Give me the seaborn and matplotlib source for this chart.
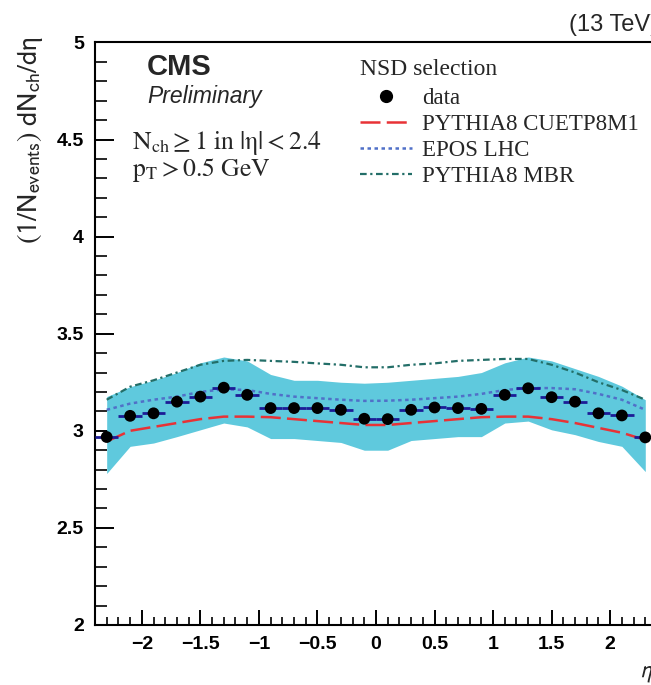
import numpy as np
import pandas as pd
import matplotlib
matplotlib.use("Agg")
import matplotlib.pyplot as plt
import seaborn as sns
from matplotlib.lines import Line2D
from matplotlib.ticker import MultipleLocator, FixedLocator, FixedFormatter

# ---------------- data ----------------
eta = [-2.3, -2.1, -1.9, -1.7, -1.5, -1.3, -1.1, -0.9, -0.7, -0.5, -0.3, -0.1,
       0.1, 0.3, 0.5, 0.7, 0.9, 1.1, 1.3, 1.5, 1.7, 1.9, 2.1, 2.3]
data_vals = [2.968, 3.077, 3.090, 3.150, 3.176, 3.222, 3.185, 3.117, 3.117, 3.117, 3.108, 3.062,
             3.060, 3.108, 3.120, 3.117, 3.113, 3.185, 3.219, 3.173, 3.150, 3.090, 3.079, 2.966]
band_low = [2.780, 2.920, 2.937, 2.970, 3.005, 3.040, 3.020, 2.960, 2.960, 2.950, 2.940, 2.900,
            2.900, 2.950, 2.960, 2.970, 2.970, 3.040, 3.050, 3.005, 2.980, 2.945, 2.920, 2.790]
band_high = [3.176, 3.227, 3.260, 3.300, 3.350, 3.380, 3.360, 3.290, 3.260, 3.260, 3.250, 3.245,
             3.250, 3.260, 3.270, 3.280, 3.300, 3.350, 3.380, 3.360, 3.320, 3.280, 3.230, 3.160]
cuetp8m1 = [2.945, 3.000, 3.020, 3.040, 3.060, 3.073, 3.073, 3.070, 3.060, 3.050, 3.040, 3.030,
            3.030, 3.040, 3.050, 3.060, 3.070, 3.073, 3.073, 3.060, 3.040, 3.015, 2.990, 2.953]
epos_lhc = [3.108, 3.140, 3.160, 3.176, 3.200, 3.214, 3.210, 3.190, 3.176, 3.168, 3.160, 3.154,
            3.155, 3.160, 3.168, 3.176, 3.190, 3.210, 3.220, 3.220, 3.214, 3.190, 3.160, 3.108]
mbr = [3.160, 3.227, 3.260, 3.300, 3.340, 3.360, 3.365, 3.360, 3.355, 3.347, 3.340, 3.327,
       3.327, 3.340, 3.347, 3.360, 3.365, 3.370, 3.370, 3.340, 3.300, 3.250, 3.210, 3.160]

xticks = [-2, -1.5, -1, -0.5, 0, 0.5, 1, 1.5, 2]
xtick_labels = ["\u22122", "\u22121.5", "\u22121", "\u22120.5", "0", "0.5", "1", "1.5", "2"]
yticks = [2, 2.5, 3, 3.5, 4, 4.5, 5]
ytick_labels = ["2", "2.5", "3", "3.5", "4", "4.5", "5"]

legend_title = "NSD selection"
legend_labels = ["data", "PYTHIA8 CUETP8M1", "EPOS LHC", "PYTHIA8 MBR"]

# ---------------- style ----------------
sns.set_theme(style="ticks")
plt.rcParams["font.family"] = ["Liberation Sans", "DejaVu Sans"]
plt.rcParams["axes.linewidth"] = 1.5

df = pd.DataFrame({"eta": eta, "data": data_vals, "lo": band_low, "hi": band_high,
                   "cuet": cuetp8m1, "epos": epos_lhc, "mbr": mbr})

fig = plt.figure(figsize=(6.51, 6.85), dpi=100)
ax = fig.add_axes([0.1459, 0.0876, 0.8633, 0.8505])

band_col = "#5fc9dd"
red = "#e83236"
blue = "#5070c8"
teal = "#236e68"
navy = "#1c1c96"

ax.fill_between(df["eta"], df["lo"], df["hi"], color=band_col, lw=0, zorder=1)

sns.lineplot(data=df, x="eta", y="mbr", ax=ax, color=teal, lw=1.6,
             linestyle=(0, (3, 1.6, 1, 1.6)), zorder=3)
sns.lineplot(data=df, x="eta", y="epos", ax=ax, color=blue, lw=1.8,
             linestyle=(0, (1.4, 1.4)), zorder=3)
sns.lineplot(data=df, x="eta", y="cuet", ax=ax, color=red, lw=1.8,
             linestyle=(0, (8, 2.5)), zorder=3)

ax.errorbar(df["eta"], df["data"], xerr=0.1, fmt="none", ecolor=navy,
            elinewidth=2.0, capsize=0, zorder=4)
sns.scatterplot(data=df, x="eta", y="data", ax=ax, color="black", s=72,
                edgecolor="none", zorder=5)

ax.set_xlim(-2.4, 2.4)
ax.set_ylim(2, 5)
ax.set_xlabel("")
ax.set_ylabel("")

ax.xaxis.set_major_locator(FixedLocator(xticks))
ax.xaxis.set_major_formatter(FixedFormatter(xtick_labels))
ax.yaxis.set_major_locator(FixedLocator(yticks))
ax.yaxis.set_major_formatter(FixedFormatter(ytick_labels))
ax.xaxis.set_minor_locator(MultipleLocator(0.1))
ax.yaxis.set_minor_locator(MultipleLocator(0.1))

ax.tick_params(axis="y", which="major", direction="in", length=14, width=1.4,
               labelsize=14, pad=8, colors="black")
ax.tick_params(axis="y", which="minor", direction="in", length=8.5, width=1.4)
ax.tick_params(axis="x", which="major", direction="in", length=11, width=1.4,
               labelsize=14, pad=8, colors="black")
ax.tick_params(axis="x", which="minor", direction="in", length=5.5, width=1.4)
for lab in ax.get_xticklabels() + ax.get_yticklabels():
    lab.set_fontweight("bold")
for s in ax.spines.values():
    s.set_color("black")
    s.set_linewidth(1.5)

# ---------------- legend ----------------
handles = [
    Line2D([], [], ls="none", marker="o", color="black", markersize=8.5),
    Line2D([], [], color=red, lw=1.8, ls=(0, (8, 2.5))),
    Line2D([], [], color=blue, lw=1.8, ls=(0, (1.4, 1.4))),
    Line2D([], [], color=teal, lw=1.6, ls=(0, (3, 1.6, 1, 1.6))),
]
leg = ax.legend(handles, legend_labels, title=legend_title, loc="upper left",
                bbox_to_anchor=(0.452, 0.992), frameon=False, borderpad=0,
                handlelength=2.25, handletextpad=0.45, labelspacing=0.22,
                alignment="left",
                prop={"family": "Liberation Serif", "size": 16.5},
                title_fontproperties={"family": "Liberation Serif", "size": 17})
leg._legend_box.sep = 6

# ---------------- texts ----------------
fig.text(147 / 651, 1 - 75 / 685, "CMS", fontsize=21, fontweight="bold",
         family="Liberation Sans", va="baseline", ha="left")
fig.text(147 / 651, 1 - 103 / 685, "Preliminary", fontsize=16.5, style="italic",
         family="Liberation Sans", va="baseline", ha="left")
fig.text(132 / 651, 1 - 149 / 685, r"$\mathrm{N_{ch}\geq 1\ in\ |\eta| < 2.4}$",
         fontsize=18.5, math_fontfamily="stix", va="baseline", ha="left")
fig.text(132 / 651, 1 - 176 / 685, r"$\mathrm{p_{T} > 0.5\ GeV}$",
         fontsize=18.5, math_fontfamily="stix", va="baseline", ha="left")
fig.text(658 / 651, 1 - 31 / 685, "(13 TeV)", fontsize=17,
         family="Liberation Sans", va="baseline", ha="right")
fig.text(30 / 651, 1 - 36 / 685,
         r"$\mathrm{(1/N_{events})\ dN_{ch}/d\eta}$",
         fontsize=20.5, math_fontfamily="stixsans", rotation=90,
         ha="center", va="top")
fig.text(640 / 651, 8 / 685, r"$\eta$", fontsize=17, math_fontfamily="stixsans",
         ha="left", va="baseline")

fig.savefig("out.png", dpi=100)
